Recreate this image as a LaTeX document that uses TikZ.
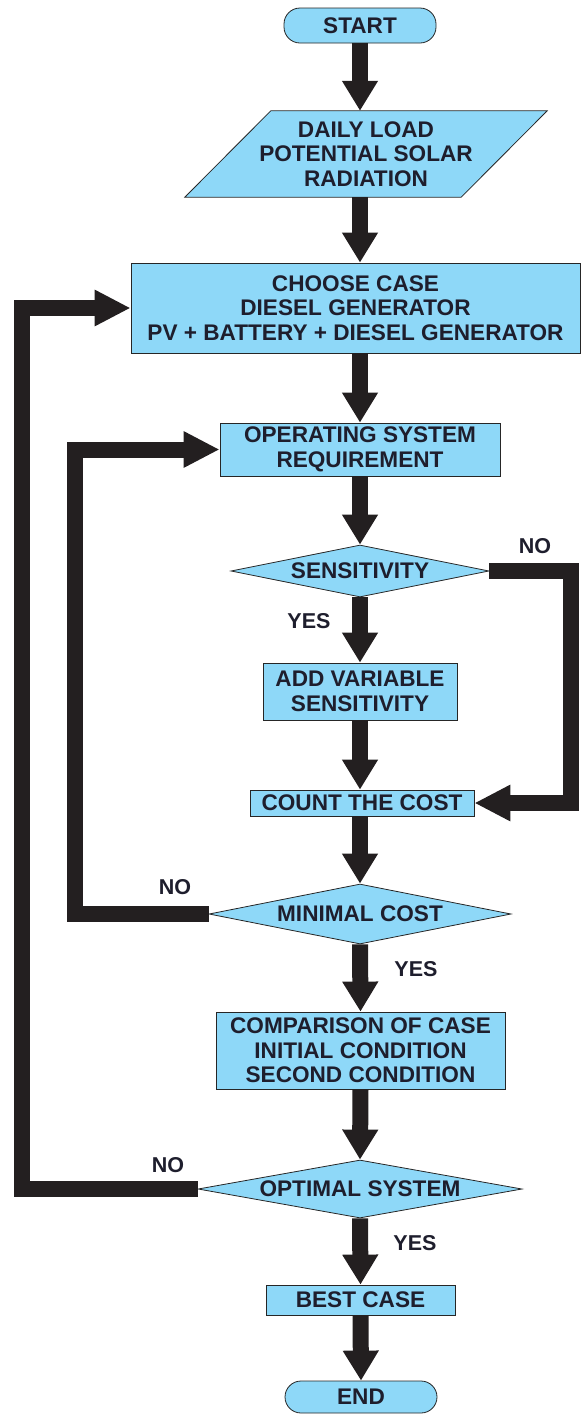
\documentclass[tikz,border=0pt]{standalone}
\usepackage{fontspec}
\setmainfont{Liberation Sans}
\usetikzlibrary{arrows.meta,shapes.geometric,backgrounds}
\definecolor{boxblue}{RGB}{142,216,248}
\definecolor{arrowblack}{RGB}{35,31,32}
\definecolor{txtcol}{RGB}{30,30,45}
\begin{document}
\begin{tikzpicture}[x=1pt,y=-1pt,
  every node/.style={font=\bfseries\fontsize{22.6}{24.5}\selectfont, text=txtcol, align=center, inner sep=0pt},
  boxshape/.style={draw=black!85, line width=0.8pt, fill=boxblue},
  termbox/.style={boxshape, rounded corners=16pt},
  procbox/.style={boxshape},
  decbox/.style={boxshape, diamond, shape aspect=5},
  flow/.style={draw=arrowblack, line width=16pt, -{Triangle[width=34pt,length=30pt]}},
  loopline/.style={draw=arrowblack, line width=16pt, line join=miter, -{Triangle[width=34pt,length=36pt]}},
  lbl/.style={font=\bfseries\fontsize{21.5}{24}\selectfont}
]
\useasboundingbox (0,0) rectangle (581,1414);

\node[termbox, minimum width=152pt, minimum height=35pt] (start) at (360,25.5) {START};
\node[minimum width=362pt, minimum height=86pt] (input) at (366,154) {DAILY LOAD\\POTENTIAL SOLAR\\RADIATION};
\begin{pgfonlayer}{background}
\draw[boxshape] ([xshift=86pt]input.north west) -- (input.north east) -- ([xshift=-86pt]input.south east) -- (input.south west) -- cycle;
\end{pgfonlayer}
\node[procbox, minimum width=449pt, minimum height=90pt] (choose) at (355.5,308) {CHOOSE CASE\\DIESEL GENERATOR\\PV + BATTERY + DIESEL GENERATOR};
\node[procbox, minimum width=280pt, minimum height=53pt] (oper) at (360,449.5) {OPERATING SYSTEM\\REQUIREMENT};
\node[decbox, minimum width=258pt, minimum height=52pt] (sens) at (360,571) {SENSITIVITY};
\node[procbox, minimum width=194pt, minimum height=57pt] (addv) at (360,691.5) {ADD VARIABLE\\SENSITIVITY};
\node[procbox, minimum width=224pt, minimum height=26pt] (cost) at (362,803) {COUNT THE COST};
\node[decbox, minimum width=302pt, minimum height=60pt] (minc) at (360,914) {MINIMAL COST};
\node[procbox, minimum width=289pt, minimum height=77pt] (comp) at (360.5,1050.5) {COMPARISON OF CASE\\INITIAL CONDITION\\SECOND CONDITION};
\node[decbox, minimum width=324pt, minimum height=58pt] (opt) at (360,1189) {OPTIMAL SYSTEM};
\node[procbox, minimum width=189pt, minimum height=30pt] (best) at (360.5,1300) {BEST CASE};
\node[termbox, minimum width=152pt, minimum height=32pt] (end) at (361,1397) {END};

\draw[flow] (start.south) -- (start.south |- input.north);
\draw[flow] (start.south |- input.south) -- (start.south |- choose.north);
\draw[flow] (oper.north |- choose.south) -- (oper.north);
\draw[flow] (oper.south) -- (sens.north);
\draw[flow] (sens.south) -- (addv.north);
\draw[flow] (addv.south) -- (addv.south |- cost.north);
\draw[flow] (addv.south |- cost.south) -- (minc.north);
\draw[flow] (minc.south) -- (comp.north);
\draw[flow] (comp.south) -- (opt.north);
\draw[flow] (opt.south) -- (best.north);
\draw[flow] (best.south) -- (end.north);

\draw[loopline] (sens.east) -- ++(82,0) |- (cost.east);
\draw[loopline] (minc.west) -- ++(-134,0) |- (oper.west);
\draw[loopline] (opt.west) -- ++(-176,0) |- (choose.west);

\node[lbl] (no1) at (535,546) {NO};
\node[lbl] (yes1) at (309,621) {YES};
\node[lbl] (no2) at (175,887) {NO};
\node[lbl] (yes2) at (416,969) {YES};
\node[lbl] (no3) at (168,1165) {NO};
\node[lbl] (yes3) at (415,1243) {YES};
\end{tikzpicture}
\end{document}
